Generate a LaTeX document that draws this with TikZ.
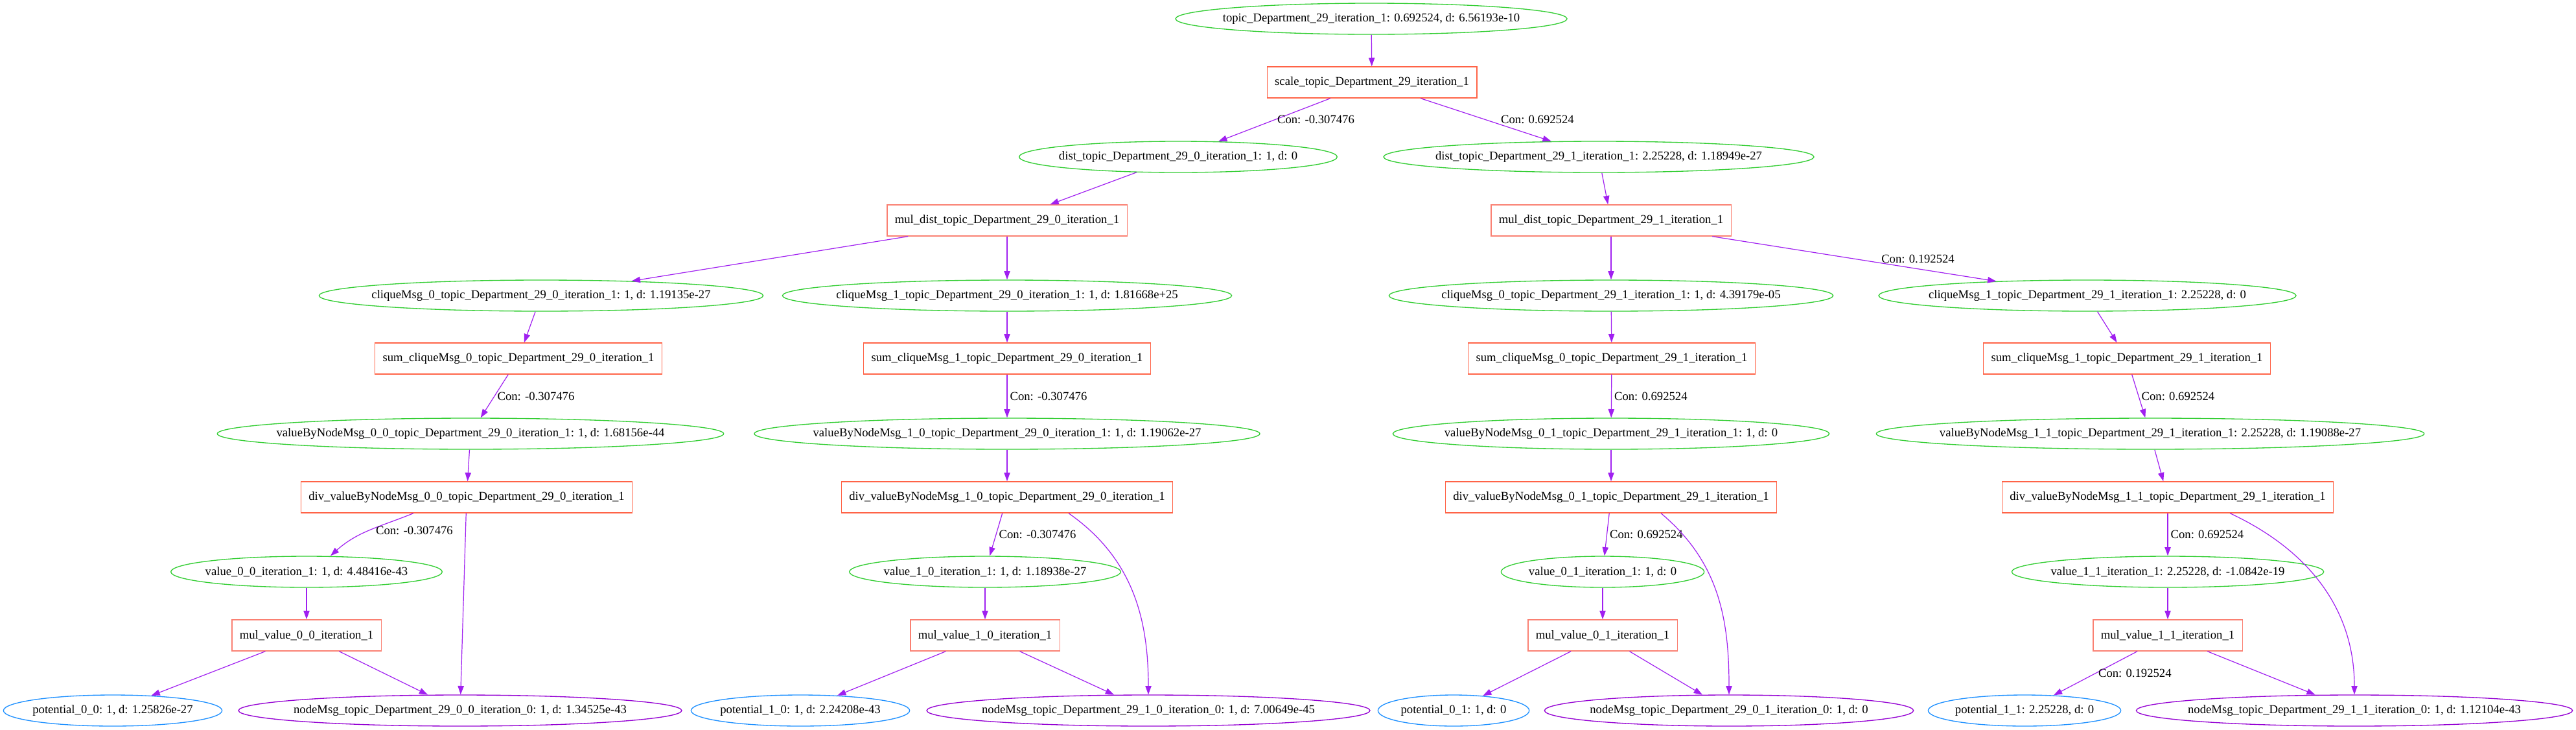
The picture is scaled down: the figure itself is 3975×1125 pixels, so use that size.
\documentclass[tikz,border=0pt]{standalone}
\usepackage{fontspec}
\setmainfont{Liberation Serif}
\definecolor{gvgreen}{HTML}{32CD32}
\definecolor{gvtomato}{HTML}{FF6347}
\definecolor{gvsalmon}{HTML}{FA8072}
\definecolor{gvpurple}{HTML}{A020F0}
\definecolor{gvblue}{HTML}{1E90FF}
\definecolor{gvviolet}{HTML}{9400D3}
\usetikzlibrary{shapes,arrows.meta,positioning,calc}

\begin{document}
\begin{tikzpicture}[x=0.75pt, y=0.75pt, font=\fontsize{14}{16}\selectfont,
  var/.style={ellipse, draw=gvgreen, line width=1pt, inner xsep=-30pt, inner ysep=0pt, minimum height=36pt, minimum width=#1},
  pot/.style={var=#1, draw=gvblue},
  msg/.style={var=#1, draw=gvviolet},
  op/.style={rectangle, draw=gvtomato, line width=1pt, inner xsep=9pt, minimum height=36pt},
  mulop/.style={op, draw=gvsalmon},
  con/.style={draw=gvpurple, line width=0.9pt, -{Triangle[length=10pt,width=7pt]}},
  lbl/.style={right, inner sep=3pt}]
\useasboundingbox (0,0) rectangle (3975,-1125);
\node[var=453pt] (topic) at (2116,-29) {topic\_Department\_29\_iteration\_1: 0.692524, d: 6.56193e-10};
\node[op] (scale) at (2117,-127) {scale\_topic\_Department\_29\_iteration\_1};
\node[var=368pt] (dist0) at (1818,-242) {dist\_topic\_Department\_29\_0\_iteration\_1: 1, d: 0};
\node[var=498pt] (dist1) at (2467,-242) {dist\_topic\_Department\_29\_1\_iteration\_1: 2.25228, d: 1.18949e-27};
\node[mulop] (muldist0) at (1554,-340) {mul\_dist\_topic\_Department\_29\_0\_iteration\_1};
\node[mulop] (muldist1) at (2486,-340) {mul\_dist\_topic\_Department\_29\_1\_iteration\_1};

\node[var=514pt] (clq00) at (835,-456) {cliqueMsg\_0\_topic\_Department\_29\_0\_iteration\_1: 1, d: 1.19135e-27};
\node[var=520pt] (clq10) at (1554,-456) {cliqueMsg\_1\_topic\_Department\_29\_0\_iteration\_1: 1, d: 1.81668e+25};
\node[var=514pt] (clq01) at (2486,-456) {cliqueMsg\_0\_topic\_Department\_29\_1\_iteration\_1: 1, d: 4.39179e-05};
\node[var=483pt] (clq11) at (3221,-456) {cliqueMsg\_1\_topic\_Department\_29\_1\_iteration\_1: 2.25228, d: 0};

\node[op] (sum00) at (800,-553) {sum\_cliqueMsg\_0\_topic\_Department\_29\_0\_iteration\_1};
\node[op] (sum10) at (1554,-553) {sum\_cliqueMsg\_1\_topic\_Department\_29\_0\_iteration\_1};
\node[op] (sum01) at (2487,-553) {sum\_cliqueMsg\_0\_topic\_Department\_29\_1\_iteration\_1};
\node[op] (sum11) at (3282,-553) {sum\_cliqueMsg\_1\_topic\_Department\_29\_1\_iteration\_1};

\node[var=586pt] (vbn00) at (726,-669) {valueByNodeMsg\_0\_0\_topic\_Department\_29\_0\_iteration\_1: 1, d: 1.68156e-44};
\node[var=585pt] (vbn10) at (1554,-669) {valueByNodeMsg\_1\_0\_topic\_Department\_29\_0\_iteration\_1: 1, d: 1.19062e-27};
\node[var=505pt] (vbn01) at (2486,-669) {valueByNodeMsg\_0\_1\_topic\_Department\_29\_1\_iteration\_1: 1, d: 0};
\node[var=634pt] (vbn11) at (3318,-669) {valueByNodeMsg\_1\_1\_topic\_Department\_29\_1\_iteration\_1: 2.25228, d: 1.19088e-27};

\node[op] (div00) at (720,-767) {div\_valueByNodeMsg\_0\_0\_topic\_Department\_29\_0\_iteration\_1};
\node[op] (div10) at (1554,-767) {div\_valueByNodeMsg\_1\_0\_topic\_Department\_29\_0\_iteration\_1};
\node[op] (div01) at (2486,-767) {div\_valueByNodeMsg\_0\_1\_topic\_Department\_29\_1\_iteration\_1};
\node[op] (div11) at (3345,-767) {div\_valueByNodeMsg\_1\_1\_topic\_Department\_29\_1\_iteration\_1};

\node[var=314pt] (val00) at (473,-882) {value\_0\_0\_iteration\_1: 1, d: 4.48416e-43};
\node[var=314pt] (val10) at (1520,-882) {value\_1\_0\_iteration\_1: 1, d: 1.18938e-27};
\node[var=235pt] (val01) at (2473,-882) {value\_0\_1\_iteration\_1: 1, d: 0};
\node[var=361pt] (val11) at (3345,-882) {value\_1\_1\_iteration\_1: 2.25228, d: -1.0842e-19};

\node[mulop] (mulv00) at (473,-980) {mul\_value\_0\_0\_iteration\_1};
\node[mulop] (mulv10) at (1520,-980) {mul\_value\_1\_0\_iteration\_1};
\node[mulop] (mulv01) at (2473,-980) {mul\_value\_0\_1\_iteration\_1};
\node[mulop] (mulv11) at (3345,-980) {mul\_value\_1\_1\_iteration\_1};

\node[pot=253pt] (pot00) at (174,-1096) {potential\_0\_0: 1, d: 1.25826e-27};
\node[pot=253pt] (pot10) at (1235,-1096) {potential\_1\_0: 1, d: 2.24208e-43};
\node[pot=175pt] (pot01) at (2243,-1096) {potential\_0\_1: 1, d: 0};
\node[pot=223pt] (pot11) at (3124,-1096) {potential\_1\_1: 2.25228, d: 0};

\node[msg=513pt] (nm00) at (710,-1096) {nodeMsg\_topic\_Department\_29\_0\_0\_iteration\_0: 1, d: 1.34525e-43};
\node[msg=513pt] (nm10) at (1772,-1096) {nodeMsg\_topic\_Department\_29\_1\_0\_iteration\_0: 1, d: 7.00649e-45};
\node[msg=427pt] (nm01) at (2668,-1096) {nodeMsg\_topic\_Department\_29\_0\_1\_iteration\_0: 1, d: 0};
\node[msg=505pt] (nm11) at (3633,-1096) {nodeMsg\_topic\_Department\_29\_1\_1\_iteration\_0: 1, d: 1.12104e-43};

\draw[con] (topic) -- (scale);
\draw[con] (scale) -- node[lbl, midway] {Con: -0.307476} (dist0);
\draw[con] (scale) -- node[lbl, midway, xshift=14pt] {Con: 0.692524} (dist1);
\draw[con] (dist0) -- (muldist0);
\draw[con] (dist1) -- (muldist1);
\draw[con] (muldist0) -- (clq00);
\draw[con] (muldist0) -- (clq10);
\draw[con] (muldist1) -- (clq01);
\draw[con] (muldist1) -- node[lbl, midway, xshift=28pt] {Con: 0.192524} (clq11);

\draw[con] (clq00) -- (sum00);
\draw[con] (clq10) -- (sum10);
\draw[con] (clq01) -- (sum01);
\draw[con] (clq11) -- (sum11);
\draw[con] (sum00) -- node[lbl, midway] {Con: -0.307476} (vbn00);
\draw[con] (sum10) -- node[lbl, midway] {Con: -0.307476} (vbn10);
\draw[con] (sum01) -- node[lbl, midway] {Con: 0.692524} (vbn01);
\draw[con] (sum11) -- node[lbl, midway] {Con: 0.692524} (vbn11);
\draw[con] (vbn00) -- (div00);
\draw[con] (vbn10) -- (div10);
\draw[con] (vbn01) -- (div01);
\draw[con] (vbn11) -- (div11);

\draw[con] ($(div00.south)+(-82,0)$) to[out=-158, in=42] node[lbl, midway, xshift=4pt] {Con: -0.307476} ($(val00.north)+(37,0)$);
\draw[con] (div10) -- node[lbl, midway] {Con: -0.307476} (val10);
\draw[con] (div01) -- node[lbl, midway] {Con: 0.692524} (val01);
\draw[con] (div11) -- node[lbl, midway] {Con: 0.692524} (val11);
\draw[con] (div00) -- (nm00);
\draw[con] ($(div10.south)+(95,0)$) to[out=-35, in=90] (nm10.north);
\draw[con] ($(div01.south)+(77,0)$) to[out=-40, in=90] (nm01.north);
\draw[con] ($(div11.south)+(96,0)$) to[out=-25, in=90] (nm11.north);

\draw[con] (val00) -- (mulv00);
\draw[con] (val10) -- (mulv10);
\draw[con] (val01) -- (mulv01);
\draw[con] (val11) -- (mulv11);
\draw[con] (mulv00) -- (pot00);
\draw[con] (mulv10) -- (pot10);
\draw[con] (mulv01) -- (pot01);
\draw[con] (mulv11) -- node[lbl, midway] {Con: 0.192524} (pot11);
\draw[con] (mulv00) -- (nm00);
\draw[con] (mulv10) -- (nm10);
\draw[con] (mulv01) -- (nm01);
\draw[con] (mulv11) -- (nm11);
\end{tikzpicture}
\end{document}
